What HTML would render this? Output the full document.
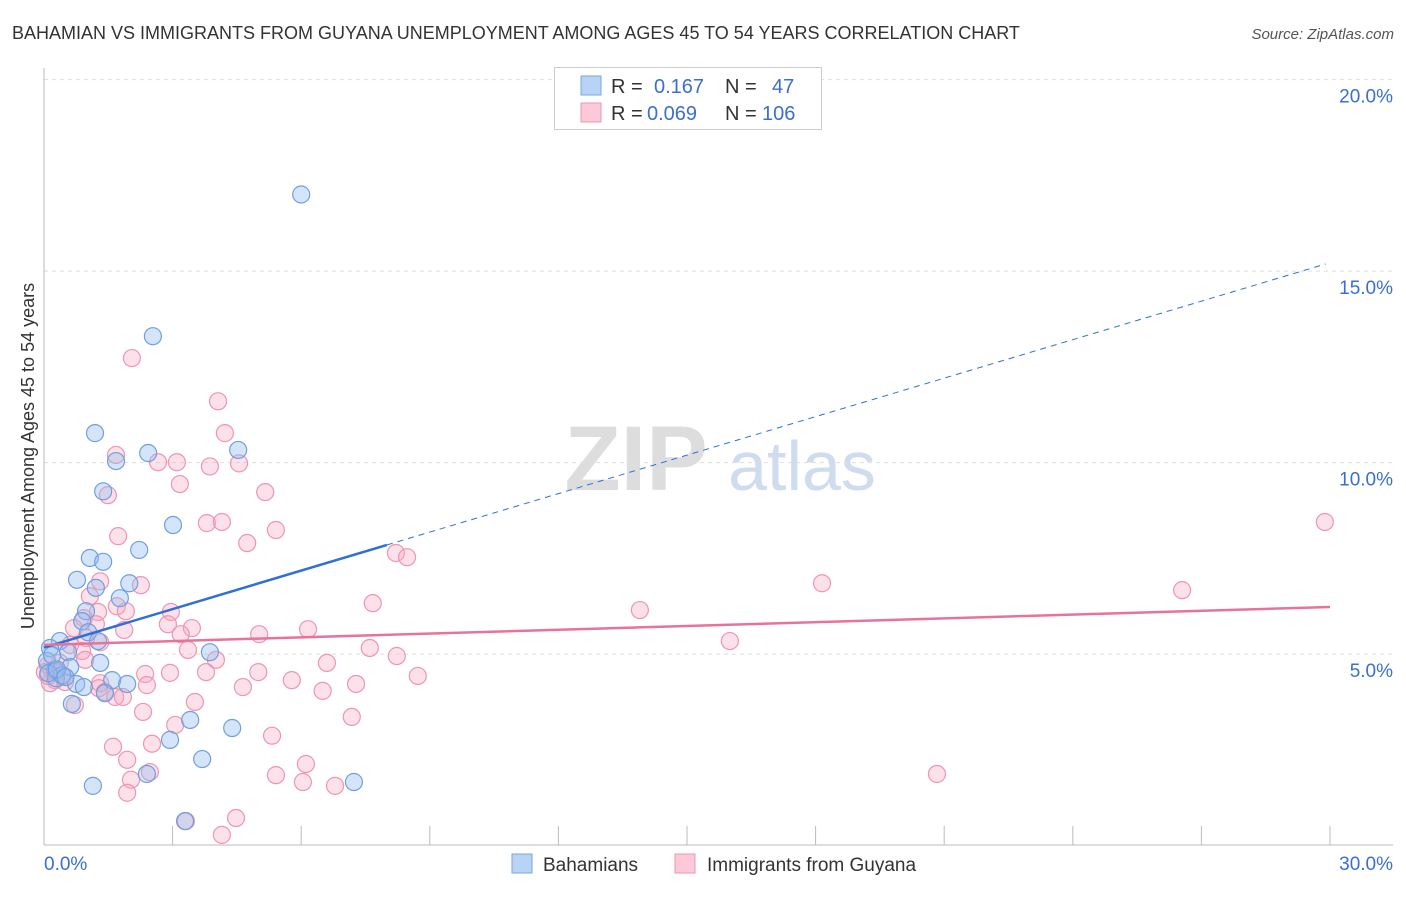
<!DOCTYPE html>
<html><head><meta charset="utf-8"><style>
body{margin:0;background:#fff;font-family:"Liberation Sans",sans-serif;}
svg text{font-family:"Liberation Sans",sans-serif;}
</style></head><body>
<svg id="chart" width="1406" height="892" xmlns="http://www.w3.org/2000/svg">
<text x="12" y="39" font-size="18" fill="#333">BAHAMIAN VS IMMIGRANTS FROM GUYANA UNEMPLOYMENT AMONG AGES 45 TO 54 YEARS CORRELATION CHART</text>
<text x="1394" y="39" font-size="15" fill="#555" text-anchor="end" font-style="italic">Source: ZipAtlas.com</text>
<g>
<text x="636" y="490" font-size="92" fill="#ddd" text-anchor="middle" font-family="Liberation Serif" font-weight="bold">ZIP</text>
<text x="802" y="490" font-size="70" fill="#cfdcf0" text-anchor="middle">atlas</text>
</g>
<g id="grid"></g>
<g id="axes"></g>
<g id="pts"></g>
<g id="lines"></g>
<text transform="translate(34,456) rotate(-90)" font-size="18" fill="#333" text-anchor="middle">Unemployment Among Ages 45 to 54 years</text>
<g>
<rect x="554.5" y="67.5" width="267" height="62" fill="#fff" stroke="#ccc"/>
<rect x="581" y="76" width="20" height="19" fill="#b9d3f5" stroke="#7aa6e0"/>
<rect x="581" y="103" width="20" height="19" fill="#fcc9d8" stroke="#ee95b0"/>
<text x="611" y="93" font-size="20" fill="#333">R =</text>
<text x="654" y="93" font-size="20" fill="#3a6fd0">0.167</text>
<text x="725" y="93" font-size="20" fill="#333">N =</text>
<text x="772" y="93" font-size="20" fill="#3a6fd0">47</text>
<text x="611" y="120" font-size="20" fill="#333">R =</text>
<text x="647" y="120" font-size="20" fill="#3a6fd0">0.069</text>
<text x="725" y="120" font-size="20" fill="#333">N =</text>
<text x="762" y="120" font-size="20" fill="#3a6fd0">106</text>
</g>
<g>
<rect x="512" y="854" width="20" height="19" fill="#b9d3f5" stroke="#7aa6e0"/>
<text x="543" y="871" font-size="19" fill="#333">Bahamians</text>
<rect x="675" y="854" width="20" height="19" fill="#fcc9d8" stroke="#ee95b0"/>
<text x="707" y="871" font-size="19" fill="#333">Immigrants from Guyana</text>
</g>
</svg>
<script>
const yTicks=[5,10,15,20];
const yTickLabels=["5.0%","10.0%","15.0%","20.0%"];
const xTicks=[0,3,6,9,12,15,18,21,24,27,30];
const blueX=[6.0,2.54,1.19,2.43,4.53,1.68,1.38,3.01,2.22,1.07,1.38,0.77,1.21,1.99,1.77,0.98,0.89,1.03,1.26,0.37,0.14,0.56,3.87,0.07,1.31,0.61,0.26,1.59,0.75,0.93,1.94,1.42,0.65,3.41,4.39,2.94,3.69,1.14,2.40,7.23,3.29,0.19,0.28,0.42,0.1,0.3,0.5];
const blueY=[17.0,13.3,10.77,10.25,10.33,10.04,9.25,8.37,7.72,7.51,7.41,6.94,6.73,6.85,6.46,6.12,5.86,5.57,5.34,5.34,5.16,5.05,5.05,4.82,4.77,4.66,4.58,4.32,4.22,4.14,4.22,3.98,3.70,3.28,3.07,2.76,2.26,1.56,1.87,1.66,0.64,4.97,4.37,4.45,4.5,4.6,4.4];
const pinkX=[2.05,4.06,4.22,1.68,2.66,3.1,3.87,4.55,3.17,5.16,1.49,3.80,4.15,29.88,1.73,5.41,4.74,8.21,8.47,18.15,26.55,2.26,1.31,1.07,7.67,13.9,1.70,1.91,1.26,2.96,0.93,1.21,2.89,0.7,3.45,1.87,6.16,3.19,5.02,0.98,16.0,1.31,0.61,3.36,7.6,0.89,8.23,4.01,6.6,0.96,0.37,2.94,2.36,5.0,3.78,8.72,0.26,0.49,0.14,5.78,2.4,7.28,4.64,6.5,1.31,1.28,1.42,1.66,1.84,3.52,0.72,2.31,7.18,3.06,5.32,1.61,2.52,1.94,6.11,5.41,6.04,6.79,2.03,2.47,1.94,20.83,3.31,4.48,4.15,0.09,0.19,0.30,0.44,0.09,0.02];
const pinkY=[12.73,11.6,10.77,10.2,10.01,10.01,9.9,9.98,9.44,9.23,9.15,8.42,8.45,8.45,8.08,8.24,7.9,7.64,7.53,6.85,6.67,6.8,6.9,6.51,6.33,6.15,6.25,6.12,6.1,6.1,5.94,5.78,5.78,5.68,5.68,5.63,5.65,5.52,5.52,5.42,5.34,5.31,5.24,5.11,5.16,5.08,4.95,4.85,4.77,4.85,4.77,4.51,4.48,4.53,4.53,4.43,4.32,4.27,4.24,4.32,4.19,4.22,4.14,4.04,4.24,4.11,4.01,3.88,3.88,3.75,3.67,3.49,3.36,3.15,2.87,2.58,2.66,2.24,2.13,1.84,1.66,1.56,1.72,1.92,1.38,1.87,0.64,0.72,0.28,4.43,4.58,4.53,4.43,4.71,4.53];
const blueFit=[5.17,0.335,8.0];
const pinkFit=[5.24,0.033];
const X=v=>44+v*(1330-44)/30;
const Y=v=>845.6-v*38.3;
const NS="http://www.w3.org/2000/svg";
function mk(tag,attrs,parent){const e=document.createElementNS(NS,tag);for(const k in attrs)e.setAttribute(k,attrs[k]);document.getElementById(parent).appendChild(e);return e;}
yTicks.forEach((t,i)=>{
 const g=mk('line',{x1:44,x2:1393,y1:Y(t),y2:Y(t),stroke:'#ddd','stroke-dasharray':'4,4'},'grid');
 
 
 const l=mk('text',{x:1393,y:Y(t)+23,'font-size':19,fill:'#3a6fd0','text-anchor':'end'},'grid');
 l.textContent=yTickLabels[i];
 
 
});
let a=mk('line',{x1:44,x2:44,y1:68,y2:845,stroke:'#bbb'},'axes');


a=mk('line',{x1:44,x2:1393,y1:845,y2:845,stroke:'#bbb'},'axes');


xTicks.forEach(t=>{
 const k=mk('line',{x1:X(t),x2:X(t),y1:826,y2:845,stroke:'#bbb'},'axes');
 
 
});
let xl=mk('text',{x:44,y:870,'font-size':19,fill:'#3a6fd0'},'axes');xl.textContent='0.0%';


xl=mk('text',{x:1393,y:870,'font-size':19,fill:'#3a6fd0','text-anchor':'end'},'axes');xl.textContent='30.0%';


pinkX.forEach((x,i)=>{
 const c=mk('circle',{cx:X(x),cy:Y(pinkY[i]),r:8.5,fill:'rgba(248,170,195,0.35)',stroke:'#ee95b0','stroke-width':1.2},'pts');
 
 
});
blueX.forEach((x,i)=>{
 const c=mk('circle',{cx:X(x),cy:Y(blueY[i]),r:8.5,fill:'rgba(150,190,240,0.4)',stroke:'#6f9fe0','stroke-width':1.2},'pts');
 
 
});
const bf=x=>blueFit[0]+blueFit[1]*x;
let ln=mk('line',{x1:X(0),y1:Y(bf(0)),x2:X(blueFit[2]),y2:Y(bf(blueFit[2])),stroke:'#2f6fd6','stroke-width':2.5},'lines');


ln=mk('line',{x1:X(blueFit[2]),y1:Y(bf(blueFit[2])),x2:X(29.9),y2:Y(bf(29.9)),stroke:'#2f6fd6','stroke-width':1,'stroke-dasharray':'6,5'},'lines');


const pf=x=>pinkFit[0]+pinkFit[1]*x;
ln=mk('line',{x1:X(0),y1:Y(pf(0)),x2:X(30),y2:Y(pf(30)),stroke:'#e8739a','stroke-width':2.5},'lines');


</script>
</body></html>
